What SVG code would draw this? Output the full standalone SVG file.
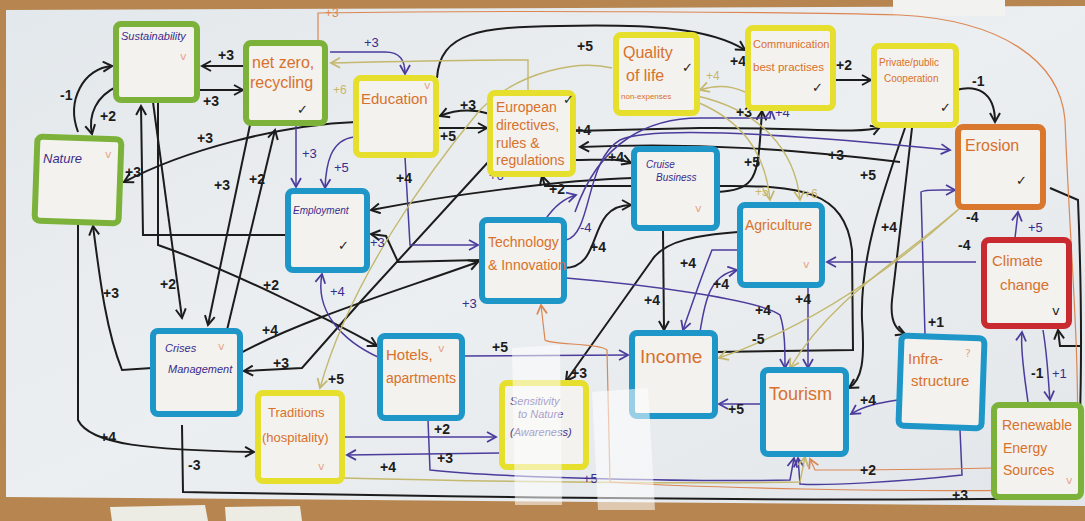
<svg xmlns="http://www.w3.org/2000/svg" width="1085" height="521" viewBox="0 0 1085 521">
<defs>
<marker id="ak" viewBox="0 0 12 12" refX="10" refY="6" markerWidth="12" markerHeight="12" markerUnits="userSpaceOnUse" orient="auto"><path d="M1,1 L10,6 L1,11" fill="none" stroke="#1c1c1c" stroke-width="2"/></marker>
<marker id="ap" viewBox="0 0 12 12" refX="10" refY="6" markerWidth="12" markerHeight="12" markerUnits="userSpaceOnUse" orient="auto"><path d="M1,1 L10,6 L1,11" fill="none" stroke="#4a3c9c" stroke-width="1.8"/></marker>
<marker id="at" viewBox="0 0 12 12" refX="10" refY="6" markerWidth="12" markerHeight="12" markerUnits="userSpaceOnUse" orient="auto"><path d="M1,1 L10,6 L1,11" fill="none" stroke="#c4b86e" stroke-width="1.8"/></marker>
<marker id="ao" viewBox="0 0 12 12" refX="10" refY="6" markerWidth="12" markerHeight="12" markerUnits="userSpaceOnUse" orient="auto"><path d="M1,1 L10,6 L1,11" fill="none" stroke="#dc8652" stroke-width="1.8"/></marker>
<linearGradient id="board" x1="0" y1="0" x2="1" y2="1"><stop offset="0" stop-color="#e3e8ec"/><stop offset="0.5" stop-color="#eceff1"/><stop offset="1" stop-color="#e2e6ea"/></linearGradient>
</defs>
<style>
.box{fill:#f3f2ee;stroke-width:6}
.g{stroke:#7cb23a}.y{stroke:#e6df2e}.b{stroke:#1e96c8}.o{stroke:#d9772f}.r{stroke:#c92a30}
.t{font-family:"Liberation Sans",Arial,sans-serif;fill:#d8712c}
.tp{font-family:"Liberation Sans",Arial,sans-serif;fill:#3a2c8c;font-style:italic}
.ck{font-family:"DejaVu Sans",sans-serif;font-size:13px;fill:#222}
.cf{font-family:"DejaVu Sans",sans-serif;font-size:11px;fill:#e6a58a}
.k{fill:none;stroke:#1c1c1c;stroke-width:2;marker-end:url(#ak)}
.kn{fill:none;stroke:#1c1c1c;stroke-width:2}
.p{fill:none;stroke:#4a3c9c;stroke-width:1.5;marker-end:url(#ap)}
.tn{fill:none;stroke:#c4b86e;stroke-width:1.4;marker-end:url(#at)}
.or{fill:none;stroke:#dc8652;stroke-width:1.2;marker-end:url(#ao)}
.lk{font-family:"Liberation Sans",Arial,sans-serif;font-size:14px;font-weight:bold;fill:#1c1c1c}
.lp{font-family:"Liberation Sans",Arial,sans-serif;font-size:13px;fill:#3a2c8c}
.lt{font-family:"Liberation Sans",Arial,sans-serif;font-size:12px;fill:#c9b66a}
.lo{font-family:"Liberation Sans",Arial,sans-serif;font-size:12px;fill:#dc8652}
</style>
<rect x="0" y="0" width="1085" height="521" fill="#b78650"/>
<path d="M6,10 L1085,6 L1085,506 L6,497 Z" fill="url(#board)"/>
<rect x="893" y="0" width="112" height="16" fill="#f2f2f0"/>
<path d="M110,507 L205,505 L208,521 L112,521 Z" fill="#ecebe4"/>
<path d="M225,507 L300,506 L302,521 L226,521 Z" fill="#ecebe4"/>

<g id="connectors">
<!-- black -->
<path class="k" d="M245,66 L202,66"/>
<path class="k" d="M198,90 L243,90"/>
<path class="k" d="M78,132 C66,100 84,68 112,66"/>
<path class="k" d="M118,86 C96,96 88,115 92,134"/>
<path class="k" d="M356,122 C280,125 185,150 124,182"/>
<path class="k" d="M437,128 L487,128"/>
<path class="k" d="M490,114 C470,108 455,110 440,116"/>
<path class="k" d="M437,78 C440,32 480,27 560,26 C650,24 710,28 745,50"/>
<path class="k" d="M633,186 L545,186 L542,176"/>
<path class="k" d="M573,160 C600,160 618,158 631,163"/>
<path class="k" d="M633,178 C560,180 450,195 371,210"/>
<path class="k" d="M564,268 C605,268 585,205 631,205"/>
<path class="k" d="M480,260 L398,262 L386,236 L371,234"/>
<path class="k" d="M490,160 L362,300 L302,368 L244,371"/>
<path class="k" d="M237,355 C300,320 400,290 478,262"/>
<path class="k" d="M738,232 C700,235 665,240 652,260 L566,381"/>
<path class="k" d="M153,102 L182,318"/>
<path class="k" d="M250,125 L208,325"/>
<path class="k" d="M227,330 L275,130"/>
<path class="k" d="M287,235 L143,235 L141,106"/>
<path class="k" d="M158,102 L158,245 C230,270 330,320 377,346"/>
<path class="k" d="M152,368 L122,370 C106,330 100,280 93,226"/>
<path class="k" d="M78,222 L78,420 C90,445 150,450 254,452"/>
<path class="kn" d="M182,425 L183,492 C400,496 800,502 1076,498 C1083,400 1082,300 1078,200 L1050,188"/>
<path class="k" d="M1080,346 L1060,346 L1058,330"/>
<path class="k" d="M663,230 L664,330"/>
<path class="kn" d="M717,186 C800,185 845,190 852,250 L853,350 L716,352"/>
<path class="k" d="M956,90 C975,85 995,90 995,122"/>
<path class="k" d="M835,80 L871,80"/>
<path class="k" d="M717,192 C752,190 757,180 760,140 L762,111"/>
<path class="k" d="M573,131 L700,128 C800,127 860,135 880,127"/>
<path class="k" d="M900,162 C800,150 700,142 580,147"/>
<path class="k" d="M905,128 C880,200 860,260 862,320 C865,360 862,380 849,388"/>
<path class="k" d="M912,128 L892,300 C890,320 895,330 905,334"/>
<!-- purple -->
<path class="p" d="M330,52 L385,52 C400,52 405,60 405,74"/>
<path class="p" d="M296,125 L296,187"/>
<path class="p" d="M354,137 C330,140 326,165 325,188"/>
<path class="p" d="M405,157 L410,245 L478,245"/>
<path class="p" d="M380,358 C340,340 315,310 322,274"/>
<path class="p" d="M462,356 L628,355"/>
<path class="p" d="M345,437 L496,437"/>
<path class="p" d="M500,453 L347,455"/>
<path class="p" d="M428,420 L430,470 C500,478 700,482 790,480 L794,458"/>
<path class="p" d="M960,430 L962,475 C900,482 820,486 800,484 L798,458"/>
<path class="p" d="M545,220 C555,205 565,198 576,195"/>
<path class="p" d="M566,240 C592,235 585,160 620,140 C650,125 800,135 950,150"/>
<path class="p" d="M575,212 C600,140 650,118 700,118 L770,118 L771,110"/>
<path class="p" d="M566,278 C650,285 760,300 780,315 C785,330 785,350 785,368"/>
<path class="p" d="M738,250 L712,250 C700,280 690,310 683,330"/>
<path class="p" d="M700,332 C705,300 710,275 737,270"/>
<path class="p" d="M808,287 L808,368"/>
<path class="p" d="M762,404 L719,404"/>
<path class="p" d="M898,400 C880,403 865,405 851,414"/>
<path class="p" d="M976,262 L827,262"/>
<path class="p" d="M1015,238 L1018,212"/>
<path class="p" d="M1028,402 C1025,380 1020,350 1022,332"/>
<path class="p" d="M1043,330 C1048,360 1048,380 1050,400"/>
<path class="p" d="M925,335 L921,192 C923,189 940,190 955,190"/>
<!-- tan -->
<path class="tn" d="M612,68 C580,60 520,70 480,110 C430,170 350,280 320,388"/>
<path class="tn" d="M528,92 L528,60 C450,60 380,62 331,63"/>
<path class="tn" d="M745,92 C730,85 715,85 700,90"/>
<path class="tn" d="M697,102 C740,120 765,150 770,200"/>
<path class="tn" d="M697,96 C760,110 795,150 800,200"/>
<path class="tn" d="M958,210 C880,280 800,330 719,358"/>
<path class="tn" d="M960,208 C900,260 830,300 790,368"/>
<path class="tn" d="M343,478 C500,482 700,484 800,482 L805,457"/>
<!-- orange -->
<path class="or" d="M318,43 L318,13 C500,10 800,12 900,15 C1000,20 1060,60 1065,120 C1070,250 1080,350 1077,448"/>
<path class="or" d="M992,468 C900,470 830,470 815,470 L810,459"/>
<path class="or" d="M1022,497 L1020,490 C900,492 700,488 610,482 L607,350 C600,343 550,345 545,340 L541,305"/>
<!-- labels -->
<text class="lk" x="218" y="60">+3</text>
<text class="lk" x="203" y="106">+3</text>
<text class="lk" x="60" y="100">-1</text>
<text class="lk" x="100" y="121">+2</text>
<text class="lk" x="197" y="143">+3</text>
<text class="lk" x="125" y="177">+3</text>
<text class="lk" x="460" y="110">+3</text>
<text class="lk" x="440" y="141">+5</text>
<text class="lk" x="730" y="66">+4</text>
<text class="lk" x="577" y="51">+5</text>
<text class="lk" x="549" y="194">+2</text>
<text class="lk" x="608" y="162">+4</text>
<text class="lk" x="590" y="252">+4</text>
<text class="lk" x="575" y="135">+4</text>
<text class="lk" x="396" y="183">+4</text>
<text class="lk" x="160" y="289">+2</text>
<text class="lk" x="214" y="190">+3</text>
<text class="lk" x="249" y="184">+2</text>
<text class="lk" x="103" y="298">+3</text>
<text class="lk" x="263" y="290">+2</text>
<text class="lk" x="262" y="335">+4</text>
<text class="lk" x="273" y="368">+3</text>
<text class="lk" x="328" y="384">+5</text>
<text class="lk" x="100" y="442">+4</text>
<text class="lk" x="188" y="470">-3</text>
<text class="lk" x="644" y="305">+4</text>
<text class="lk" x="752" y="344">-5</text>
<text class="lk" x="744" y="167">+5</text>
<text class="lk" x="836" y="70">+2</text>
<text class="lk" x="972" y="86">-1</text>
<text class="lk" x="828" y="160">+3</text>
<text class="lk" x="860" y="180">+5</text>
<text class="lk" x="881" y="232">+4</text>
<text class="lk" x="736" y="117">+3</text>
<text class="lk" x="571" y="378">+3</text>
<text class="lk" x="966" y="222">-4</text>
<text class="lk" x="380" y="472">+4</text>
<text class="lk" x="434" y="434">+2</text>
<text class="lk" x="437" y="463">+3</text>
<text class="lk" x="860" y="475">+2</text>
<text class="lk" x="952" y="500">+3</text>
<text class="lk" x="928" y="327">+1</text>
<text class="lk" x="860" y="405">+4</text>
<text class="lk" x="680" y="268">+4</text>
<text class="lk" x="958" y="250">-4</text>
<text class="lk" x="1031" y="378">-1</text>
<text class="lk" x="492" y="352">+5</text>
<text class="lk" x="728" y="414">+5</text>
<text class="lk" x="795" y="304">+4</text>
<text class="lk" x="755" y="315">+4</text>
<text class="lk" x="713" y="289">+4</text>
<text class="lp" x="364" y="47">+3</text>
<text class="lp" x="302" y="158">+3</text>
<text class="lp" x="334" y="172">+5</text>
<text class="lp" x="330" y="296">+4</text>
<text class="lp" x="580" y="232">-4</text>
<text class="lp" x="775" y="117">+4</text>
<text class="lp" x="1028" y="232">+5</text>
<text class="lp" x="1052" y="378">+1</text>
<text class="lp" x="583" y="483">+5</text>
<text class="lp" x="462" y="308">+3</text>
<text class="lp" x="370" y="247">+3</text>
<text class="lt" x="333" y="94">+6</text>
<text class="lt" x="706" y="80">+4</text>
<text class="lt" x="755" y="196">+5</text>
<text class="lt" x="804" y="198">+6</text>
<text class="lo" x="325" y="17">+3</text>
<text class="lp" x="489" y="180" font-size="8">+6</text>
</g>

<g id="n-sustainability"><rect class="box g" x="116" y="24" width="81" height="76" rx="5"/><text class="tp" x="121" y="40" font-size="11">Sustainability</text><text class="cf" x="180" y="60">v</text></g>
<g id="n-netzero"><rect class="box g" x="246" y="43" width="79" height="80" rx="5"/><text class="t" x="252" y="68" font-size="16">net zero,</text><text class="t" x="250" y="88" font-size="16">recycling</text><text class="ck" x="297" y="114">✓</text></g>
<g id="n-nature"><rect class="box g" x="36" y="138" width="84" height="84" rx="5" transform="rotate(2 78 180)"/><text class="tp" x="43" y="163" font-size="13">Nature</text><text class="cf" x="105" y="158">v</text></g>
<g id="n-education"><rect class="box y" x="356" y="78" width="80" height="77" rx="5"/><text class="t" x="361" y="104" font-size="15">Education</text><text class="cf" x="424" y="89">v</text></g>
<g id="n-european"><rect class="box y" x="490" y="93" width="83" height="81" rx="5"/><text class="t" x="496" y="112" font-size="14">European</text><text class="t" x="496" y="130" font-size="14">directives,</text><text class="t" x="496" y="148" font-size="14">rules &amp;</text><text class="t" x="496" y="165" font-size="14">regulations</text><text class="ck" x="563" y="104" font-size="10">✓</text></g>
<g id="n-quality"><rect class="box y" x="616" y="35" width="81" height="78" rx="5"/><text class="t" x="623" y="58" font-size="16">Quality</text><text class="t" x="626" y="81" font-size="16">of life</text><text class="t" x="621" y="99" font-size="8" fill="#d89a3a">non-expenses</text><text class="ck" x="682" y="72">✓</text></g>
<g id="n-communication"><rect class="box y" x="748" y="28" width="85" height="80" rx="5"/><text class="t" x="753" y="48" font-size="11">Communication</text><text class="t" x="753" y="71" font-size="11.5">best practises</text><text class="ck" x="812" y="92">✓</text></g>
<g id="n-private"><rect class="box y" x="874" y="46" width="82" height="79" rx="5"/><text class="t" x="879" y="66" font-size="10" fill="#c9b245">Private/public</text><text class="t" x="884" y="82" font-size="10" fill="#c9b245">Cooperation</text><text class="ck" x="940" y="112">✓</text></g>
<g id="n-erosion"><rect class="box o" x="958" y="127" width="85" height="80" rx="5"/><text class="t" x="965" y="151" font-size="16">Erosion</text><text class="ck" x="1016" y="185" fill="#2b2b7a">✓</text></g>
<g id="n-cruise"><rect class="box b" x="634" y="149" width="83" height="79" rx="5"/><text class="tp" x="646" y="168" font-size="10">Cruise</text><text class="tp" x="656" y="181" font-size="10">Business</text><text class="cf" x="695" y="212">v</text></g>
<g id="n-employment"><rect class="box b" x="288" y="191" width="79" height="79" rx="5"/><text class="tp" x="293" y="214" font-size="10">Employment</text><text class="ck" x="338" y="250" font-size="15">✓</text></g>
<g id="n-technology"><rect class="box b" x="482" y="220" width="82" height="81" rx="5"/><text class="t" x="488" y="247" font-size="14">Technology</text><text class="t" x="488" y="270" font-size="14">&amp; Innovation</text></g>
<g id="n-agriculture"><rect class="box b" x="740" y="205" width="82" height="80" rx="5"/><text class="t" x="745" y="230" font-size="14">Agriculture</text><text class="cf" x="803" y="268">v</text></g>
<g id="n-climate"><rect class="box r" x="984" y="240" width="85" height="86" rx="5"/><text class="t" x="992" y="266" font-size="15">Climate</text><text class="t" x="1000" y="290" font-size="15">change</text><text class="ck" x="1052" y="315" font-size="10" fill="#2b2b7a">v</text></g>
<g id="n-crises"><rect class="box b" x="153" y="331" width="87" height="83" rx="5"/><text class="tp" x="165" y="352" font-size="11">Crises</text><text class="tp" x="168" y="373" font-size="11">Management</text><text class="cf" x="218" y="350">v</text></g>
<g id="n-hotels"><rect class="box b" x="380" y="336" width="82" height="82" rx="5"/><text class="t" x="386" y="360" font-size="15">Hotels,</text><text class="t" x="386" y="383" font-size="14">apartments</text><text class="cf" x="438" y="352" font-size="9">v</text></g>
<g id="n-traditions"><rect class="box y" x="258" y="393" width="84" height="88" rx="5"/><text class="t" x="268" y="417" font-size="13">Traditions</text><text class="t" x="262" y="442" font-size="13">(hospitality)</text><text class="cf" x="318" y="470">v</text></g>
<g id="n-sensitivity"><rect class="box y" x="502" y="383" width="84" height="84" rx="5"/><text class="tp" x="510" y="405" font-size="11">Sensitivity</text><text class="tp" x="518" y="418" font-size="11">to Nature</text><text class="tp" x="510" y="436" font-size="11">(Awareness)</text></g>
<g id="n-income"><rect class="box b" x="632" y="333" width="83" height="83" rx="5"/><text class="t" x="640" y="363" font-size="19">Income</text></g>
<g id="n-tourism"><rect class="box b" x="763" y="370" width="83" height="84" rx="5"/><text class="t" x="769" y="400" font-size="18">Tourism</text></g>
<g id="n-infrastructure"><rect class="box b" x="900" y="337" width="83" height="90" rx="5" transform="rotate(2 941 382)"/><text class="t" x="908" y="364" font-size="15">Infra-</text><text class="t" x="911" y="386" font-size="15">structure</text><text class="cf" x="965" y="357">?</text></g>
<g id="n-renewable"><rect class="box g" x="994" y="405" width="87" height="92" rx="5"/><text class="t" x="1002" y="430" font-size="14">Renewable</text><text class="t" x="1003" y="453" font-size="14">Energy</text><text class="t" x="1003" y="475" font-size="14">Sources</text><text class="cf" x="1066" y="484">v</text></g>

<g id="glare" opacity="0.55">
<path d="M512,348 L560,345 L562,505 L515,505 Z" fill="#ffffff"/>
<path d="M592,392 L648,388 L655,510 L598,510 Z" fill="#ffffff"/>
</g>
</svg>
